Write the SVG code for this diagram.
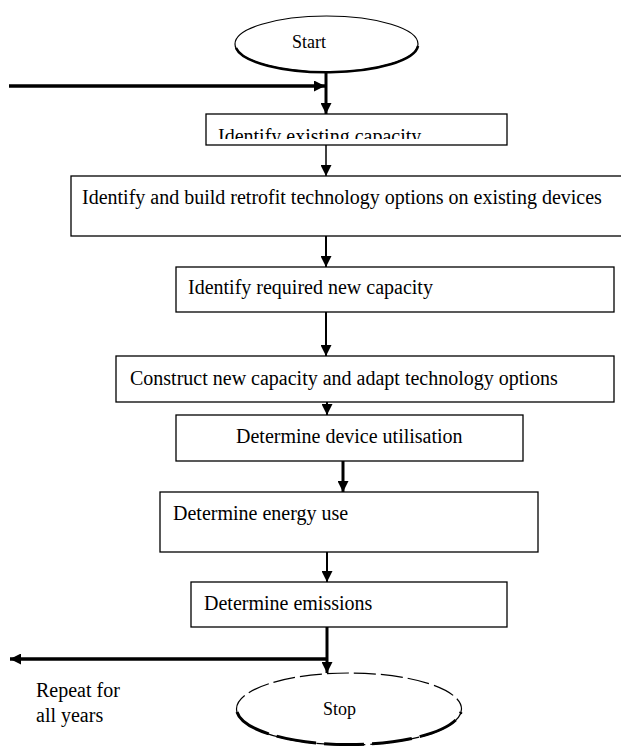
<svg xmlns="http://www.w3.org/2000/svg" width="621" height="746" viewBox="0 0 621 746" font-family="'Liberation Serif', 'Times New Roman', 'DejaVu Serif', serif">
  <style>
    .box { fill: #ffffff; stroke: #000000; stroke-width: 1.3; }
    .lbl { font-family: 'Liberation Serif', 'Times New Roman', 'DejaVu Serif', serif; font-size: 20px; fill: #000000; }
    .small { font-size: 18px; }
    .wire { fill: none; stroke: #000000; stroke-linecap: butt; }
    .term { fill: #ffffff; stroke: #000000; stroke-width: 1.2; }
  </style>
  <defs>
    <marker id="head" markerUnits="userSpaceOnUse" markerWidth="11" markerHeight="11" refX="10" refY="5" orient="auto" viewBox="0 0 10 10">
      <path d="M0,0 L10,5 L0,10 z" fill="#000000"/>
    </marker>
    <clipPath id="clip-existing">
      <rect x="200" y="110" width="320" height="29"/>
    </clipPath>
  </defs>

  <rect width="621" height="746" fill="#ffffff"/>

  <!-- connectors -->
  <g id="connectors">
    <line class="wire" x1="9" y1="86" x2="325" y2="86" stroke-width="3.5" marker-end="url(#head)"/>
    <line class="wire" x1="326" y1="72" x2="326" y2="114" stroke-width="3" marker-end="url(#head)"/>
    <line class="wire" x1="326" y1="145" x2="326" y2="176" stroke-width="1.5" marker-end="url(#head)"/>
    <line class="wire" x1="326" y1="236" x2="326" y2="267" stroke-width="2" marker-end="url(#head)"/>
    <line class="wire" x1="326" y1="312" x2="326" y2="356" stroke-width="2" marker-end="url(#head)"/>
    <line class="wire" x1="327" y1="402" x2="327" y2="415" stroke-width="2" marker-end="url(#head)"/>
    <line class="wire" x1="343" y1="461" x2="343" y2="492" stroke-width="3" marker-end="url(#head)"/>
    <line class="wire" x1="327" y1="552" x2="327" y2="582" stroke-width="2" marker-end="url(#head)"/>
    <line class="wire" x1="327" y1="627" x2="327" y2="673" stroke-width="3" marker-end="url(#head)"/>
    <line class="wire" x1="327" y1="659" x2="10" y2="659" stroke-width="3.5" marker-end="url(#head)"/>
  </g>

  <!-- terminals -->
  <g id="start">
    <ellipse class="term" cx="326.5" cy="44" rx="91.5" ry="28"/>
    <path d="M236,48 A91.5,28 0 0 0 418,46" fill="none" stroke="#000000" stroke-width="2.6"/>
    <text class="lbl small" x="292" y="48">Start</text>
  </g>

  <g id="stop">
    <ellipse class="term" cx="349" cy="709" rx="112.5" ry="36" stroke-dasharray="22 5"/>
    <path d="M237,712 A112.5,36 0 0 0 461,712" fill="none" stroke="#000000" stroke-width="3" stroke-dasharray="40 8"/>
    <text class="lbl small" x="323" y="715">Stop</text>
  </g>

  <!-- process steps -->
  <g id="existing-capacity">
    <rect class="box" x="206" y="114" width="301" height="31"/>
    <text class="lbl" x="218" y="143" clip-path="url(#clip-existing)">Identify existing capacity</text>
  </g>

  <g id="retrofit-options">
    <rect class="box" x="71" y="176" width="570" height="60"/>
    <text class="lbl" x="82" y="204">Identify and build retrofit technology options on existing devices</text>
  </g>

  <g id="required-capacity">
    <rect class="box" x="176" y="267" width="438" height="45"/>
    <text class="lbl" x="188" y="294">Identify required new capacity</text>
  </g>

  <g id="construct-capacity">
    <rect class="box" x="116" y="356" width="498" height="46"/>
    <text class="lbl" x="130" y="385">Construct new capacity and adapt technology options</text>
  </g>

  <g id="device-utilisation">
    <rect class="box" x="176" y="415" width="347" height="46"/>
    <text class="lbl" x="236" y="443">Determine device utilisation</text>
  </g>

  <g id="energy-use">
    <rect class="box" x="160" y="492" width="378" height="60"/>
    <text class="lbl" x="173" y="520">Determine energy use</text>
  </g>

  <g id="emissions">
    <rect class="box" x="191" y="582" width="316" height="45"/>
    <text class="lbl" x="204" y="610">Determine emissions</text>
  </g>

  <!-- loop note -->
  <g id="repeat-note">
    <text class="lbl" x="36" y="697">Repeat for</text>
    <text class="lbl" x="36" y="722">all years</text>
  </g>
</svg>
